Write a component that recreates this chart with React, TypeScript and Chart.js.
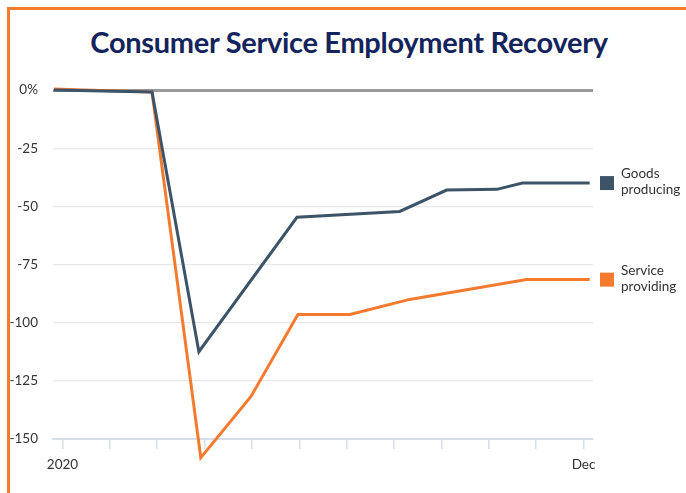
import React, { useEffect, useRef } from "react";
import { Chart, registerables } from "chart.js";

Chart.register(...registerables);

const titleText = "Consumer Service Employment Recovery";

// x in month units (0 = Jan 2020, 11 = Dec)
const monthTicks = [0, 1, 2, 3, 4, 5, 6, 7, 8, 9, 10, 11];
const xTickLabels = ["2020", "", "", "", "", "", "", "", "", "", "", "Dec"];
const yTicks = [0, -25, -50, -75, -100, -125, -150];

const goodsLabel = ["Goods", "producing"];
const goodsX = [-0.18, 1.89, 2.88, 4.95, 7.12, 8.11, 9.17, 9.71, 11.13];
const goodsY = [0, -0.9, -112.5, -54.7, -52.2, -43, -42.7, -40, -40];

const serviceLabel = ["Service", "providing"];
const serviceX = [-0.18, 1.89, 2.92, 3.98, 4.97, 6.07, 7.33, 9.8, 11.13];
const serviceY = [0.4, -0.9, -158, -131.7, -96.5, -96.5, -90, -81.5, -81.5];

const GOODS_COLOR = "#3d5468";
const SERVICE_COLOR = "#f47a30";
const FONT = "Lato, 'Open Sans', sans-serif";

const legendPlugin = {
  id: "sideLegend",
  afterDraw(chart: any) {
    const ctx = chart.ctx;
    const area = chart.chartArea;
    const yScale = chart.scales.y;
    ctx.save();
    chart.data.datasets.forEach((ds: any) => {
      const last = ds.data[ds.data.length - 1];
      const yc = yScale.getPixelForValue(last.y);
      const x0 = area.right + 7;
      ctx.fillStyle = ds.borderColor;
      ctx.fillRect(x0, yc - 7, 14, 14);
      ctx.fillStyle = "#333";
      ctx.font = `13.5px ${FONT}`;
      ctx.textAlign = "left";
      ctx.textBaseline = "middle";
      const lines: string[] = ds.legendLines;
      ctx.fillText(lines[0], x0 + 21, yc - 9);
      ctx.fillText(lines[1], x0 + 21, yc + 7);
    });
    ctx.restore();
  },
};

export default function App() {
  const ref = useRef<HTMLCanvasElement | null>(null);

  useEffect(() => {
    if (!ref.current) return;
    const chart = new Chart(ref.current, {
      type: "line",
      data: {
        datasets: [
          {
            label: goodsLabel.join(" "),
            legendLines: goodsLabel,
            data: goodsX.map((x, i) => ({ x, y: goodsY[i] })),
            borderColor: GOODS_COLOR,
            backgroundColor: GOODS_COLOR,
            borderWidth: 3,
            pointRadius: 0,
            tension: 0,
            clip: false,
          } as any,
          {
            label: serviceLabel.join(" "),
            legendLines: serviceLabel,
            data: serviceX.map((x, i) => ({ x, y: serviceY[i] })),
            borderColor: SERVICE_COLOR,
            backgroundColor: SERVICE_COLOR,
            borderWidth: 3,
            pointRadius: 0,
            tension: 0,
            clip: false,
          } as any,
        ],
      },
      options: {
        animation: false,
        responsive: true,
        maintainAspectRatio: false,
        layout: { padding: { top: 90, right: 93, left: 0, bottom: 0 } },
        plugins: {
          legend: { display: false },
          title: { display: false },
          tooltip: { enabled: false },
        },
        scales: {
          x: {
            type: "linear",
            min: -0.2,
            max: 11.2,
            afterFit: (s: any) => {
              s.height = 54;
            },
            afterBuildTicks: (s: any) => {
              s.ticks = monthTicks.map((v) => ({ value: v }));
            },
            ticks: {
              autoSkip: false,
              maxRotation: 0,
              padding: 8,
              color: "#333",
              font: { family: FONT, size: 13.5 },
              callback: (v: any) => xTickLabels[monthTicks.indexOf(Number(v))] ?? "",
            },
            grid: {
              drawOnChartArea: false,
              drawTicks: true,
              tickLength: 10,
              color: "#d6deec",
              lineWidth: 1.5,
            },
            border: { display: true, color: "#d6deec", width: 2 },
          },
          y: {
            min: -150,
            max: 0,
            afterFit: (s: any) => {
              s.width = 53;
            },
            afterBuildTicks: (s: any) => {
              s.ticks = yTicks.map((v) => ({ value: v }));
            },
            ticks: {
              padding: 15,
              color: "#333",
              font: { family: FONT, size: 13.5 },
              callback: (v: any) => (Number(v) === 0 ? "0%" : String(v)),
            },
            grid: {
              drawTicks: false,
              color: (c: any) => (c.tick && c.tick.value === 0 ? "#999999" : "#e8e8e8"),
              lineWidth: (c: any) => (c.tick && c.tick.value === 0 ? 3 : 1.2),
            },
            border: { display: false },
          },
        },
      },
      plugins: [legendPlugin],
    } as any);
    return () => chart.destroy();
  }, []);

  return (
    <div style={{ position: "absolute", left: 0, top: 0, width: 686, height: 493, background: "#fff", overflow: "hidden" }}>
      <div
        style={{
          position: "absolute",
          left: 7,
          top: 7,
          right: 0,
          bottom: 0,
          borderTop: `3px solid ${SERVICE_COLOR}`,
          borderLeft: `3px solid ${SERVICE_COLOR}`,
        }}
      />
      <div
        style={{
          position: "absolute",
          left: 6,
          top: 27,
          width: 686,
          textAlign: "center",
          fontFamily: FONT,
          fontWeight: 700,
          fontSize: 29,
          lineHeight: "29px",
          color: "#13235b",
          letterSpacing: "-0.3px",
        }}
      >
        {titleText}
      </div>
      <canvas ref={ref} style={{ position: "absolute", left: 0, top: 0, width: 686, height: 493 }} />
    </div>
  );
}
